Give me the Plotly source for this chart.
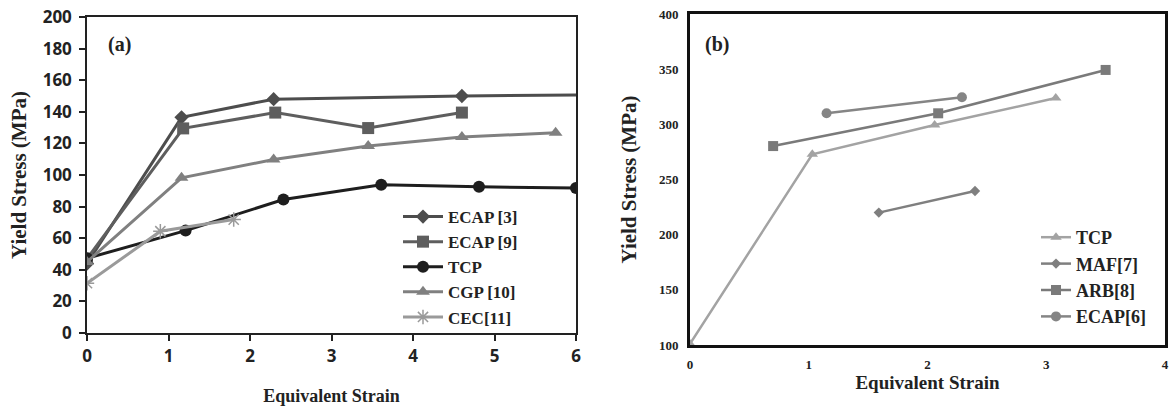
import plotly.graph_objects as go

# ---- Panel (a) data ----
ecap3_x = [0, 1.16, 2.29, 4.6, 6.9]
ecap3_y = [44, 136.5, 148, 150, 151]
ecap9_x = [0, 1.18, 2.31, 3.45, 4.6]
ecap9_y = [47, 129.5, 139.5, 129.7, 139.5]
tcpa_x = [0, 1.21, 2.41, 3.61, 4.81, 6.0]
tcpa_y = [47.3, 64.8, 84.5, 93.8, 92.5, 91.7]
cgp_x = [0, 1.16, 2.29, 3.45, 4.6, 5.75]
cgp_y = [45, 98.2, 109.8, 118.3, 124, 126.8]
cec_x = [0, 0.9, 1.8]
cec_y = [31.5, 64.4, 71.8]

# ---- Panel (b) data ----
tcpb_x = [0, 1.03, 2.06, 3.08]
tcpb_y = [101, 272.8, 299.4, 323.8]
maf_x = [1.59, 2.4]
maf_y = [220, 239.6]
arb_x = [0.7, 2.09, 3.5]
arb_y = [280.3, 310, 349.3]
ecap6_x = [1.15, 2.29]
ecap6_y = [310, 324.5]

W, H = 1172, 407
def px(x): return x / W
def py(y): return 1 - y / H

serif = "Liberation Serif, Times New Roman, serif"
sans = "Noto Sans, Open Sans, sans-serif"

fig = go.Figure()

def add(x, y, name, color, symbol, size, xa, ya, leg, lw=3):
    fig.add_trace(go.Scatter(
        x=x, y=y, name=name, mode="lines+markers",
        line=dict(color=color, width=lw),
        marker=dict(symbol=symbol, size=size, color=color,
                    line=dict(color=color, width=1.5 if "asterisk" in symbol else 0)),
        xaxis=xa, yaxis=ya, legend=leg))

add(ecap3_x, ecap3_y, "ECAP [3]", "#4d4d4d", "diamond", 11, "x", "y", "legend")
add(ecap9_x, ecap9_y, "ECAP [9]", "#5e5e5e", "square", 12, "x", "y", "legend")
add(tcpa_x, tcpa_y, "TCP", "#1e1e1e", "circle", 12, "x", "y", "legend")
add(cgp_x, cgp_y, "CGP [10]", "#808080", "triangle-up", 12, "x", "y", "legend")
add(cec_x, cec_y, "CEC[11]", "#9a9a9a", "asterisk-open", 12, "x", "y", "legend")

add(tcpb_x, tcpb_y, "TCP", "#a3a3a3", "triangle-up", 10, "x2", "y2", "legend2", 2.5)
add(maf_x, maf_y, "MAF[7]", "#7f7f7f", "diamond", 8, "x2", "y2", "legend2", 2.5)
add(arb_x, arb_y, "ARB[8]", "#7a7a7a", "square", 10, "x2", "y2", "legend2", 2.5)
add(ecap6_x, ecap6_y, "ECAP[6]", "#858585", "circle", 10, "x2", "y2", "legend2", 2.5)

fig.update_layout(
    template="none",
    width=W, height=H,
    margin=dict(l=0, r=0, t=0, b=0, autoexpand=False),
    paper_bgcolor="white", plot_bgcolor="white",
    xaxis=dict(domain=[px(87), px(576)], range=[0, 6], dtick=1, automargin=False,
               showgrid=False, zeroline=False, showline=True, mirror=True,
               linecolor="#222", linewidth=1.5, ticks="outside", ticklen=6,
               tickcolor="#222", tickwidth=1.5, ticklabelstandoff=1,
               tickfont=dict(family=sans, size=17, color="#222", weight="bold"),
               title=dict(text="Equivalent Strain", standoff=23,
                          font=dict(family=serif, size=18, color="#222", weight="bold"))),
    yaxis=dict(domain=[py(333), py(17)], range=[0, 200], dtick=20, automargin=False,
               showgrid=False, zeroline=False, showline=True, mirror=True,
               linecolor="#222", linewidth=1.5, ticks="outside", ticklen=6,
               tickcolor="#222", tickwidth=1.5, ticklabelstandoff=4,
               tickfont=dict(family=sans, size=17, color="#222", weight="bold"),
               title=dict(text="Yield Stress (MPa)", standoff=10,
                          font=dict(family=serif, size=21, color="#222", weight="bold"))),
    xaxis2=dict(domain=[px(690), px(1165)], range=[0, 4], dtick=1, anchor="y2", automargin=False,
                showgrid=False, zeroline=False, showline=True, mirror=True,
                linecolor="#111", linewidth=3, ticks="", ticklabelstandoff=5,
                tickfont=dict(family=serif, size=13, color="#222", weight="bold"),
                title=dict(text="Equivalent Strain", standoff=3,
                           font=dict(family=serif, size=19, color="#222", weight="bold"))),
    yaxis2=dict(domain=[py(345), py(14)], range=[100, 400], dtick=50, anchor="x2", automargin=False,
                showgrid=False, zeroline=False, showline=True, mirror=True,
                linecolor="#111", linewidth=3, ticks="", ticklabelstandoff=6,
                tickfont=dict(family=serif, size=13, color="#222", weight="bold"),
                title=dict(text="Yield Stress (MPa)", standoff=17,
                           font=dict(family=serif, size=21, color="#222", weight="bold"))),
    legend=dict(x=px(398), y=py(199), xanchor="left", yanchor="top",
                bgcolor="rgba(0,0,0,0)", tracegroupgap=0, itemwidth=40,
                font=dict(family=serif, size=17, color="#222", weight="bold")),
    legend2=dict(x=px(1036), y=py(219), xanchor="left", yanchor="top",
                 bgcolor="rgba(0,0,0,0)", tracegroupgap=0, itemwidth=30,
                 font=dict(family=serif, size=18, color="#222", weight="bold")),
    showlegend=True,
    annotations=[
        dict(text="(a)", x=px(106), y=py(45), xref="paper", yref="paper",
             xanchor="left", yanchor="middle", showarrow=False,
             font=dict(family=serif, size=20, color="#222", weight="bold")),
        dict(text="(b)", x=px(703), y=py(44), xref="paper", yref="paper",
             xanchor="left", yanchor="middle", showarrow=False,
             font=dict(family=serif, size=20, color="#222", weight="bold")),
    ],
)

fig.write_html("out.html", config={"displayModeBar": False},
               post_script="document.body.style.margin='0';document.body.style.overflow='hidden';")
